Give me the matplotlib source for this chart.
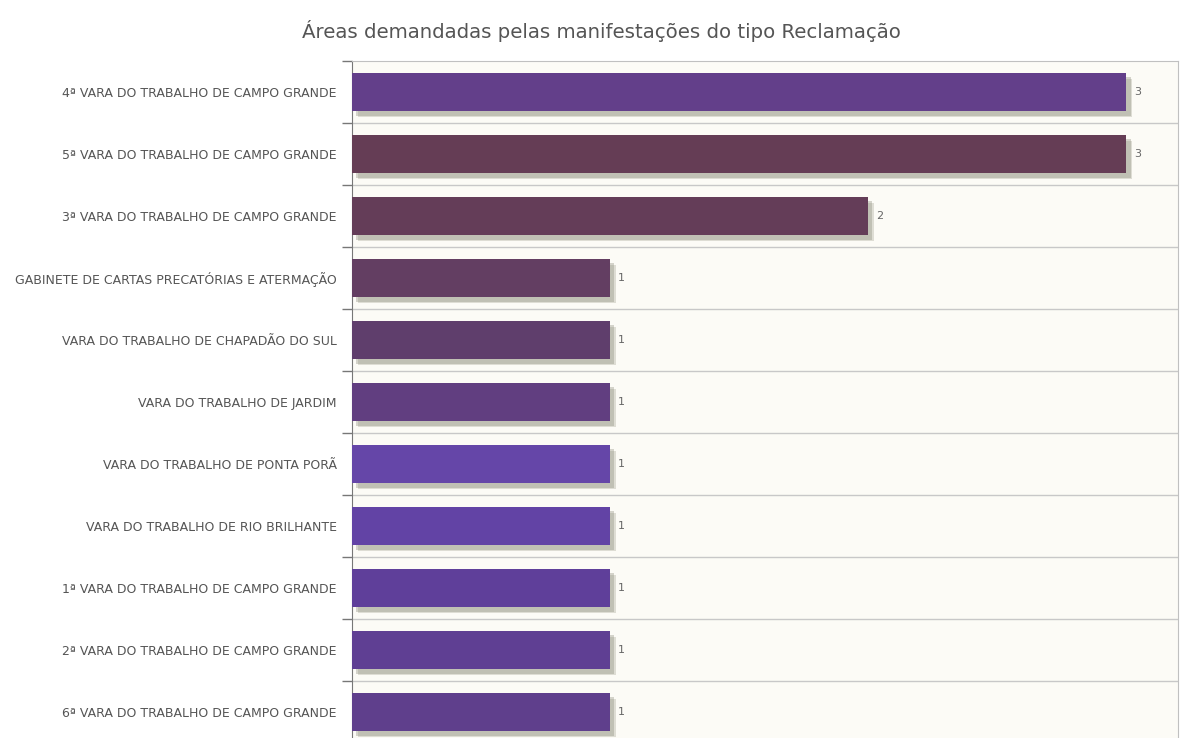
import matplotlib
matplotlib.use("Agg")
import matplotlib.pyplot as plt
import matplotlib.patheffects as pe

title = "Áreas demandadas pelas manifestações do tipo Reclamação"

areas = [
    "4ª VARA DO TRABALHO DE CAMPO GRANDE",
    "5ª VARA DO TRABALHO DE CAMPO GRANDE",
    "3ª VARA DO TRABALHO DE CAMPO GRANDE",
    "GABINETE DE CARTAS PRECATÓRIAS E ATERMAÇÃO",
    "VARA DO TRABALHO DE CHAPADÃO DO SUL",
    "VARA DO TRABALHO DE JARDIM",
    "VARA DO TRABALHO DE PONTA PORÃ",
    "VARA DO TRABALHO DE RIO BRILHANTE",
    "1ª VARA DO TRABALHO DE CAMPO GRANDE",
    "2ª VARA DO TRABALHO DE CAMPO GRANDE",
    "6ª VARA DO TRABALHO DE CAMPO GRANDE",
]
counts = [3, 3, 2, 1, 1, 1, 1, 1, 1, 1, 1]
bar_colors = [
    "#633f8a", "#653d55", "#643d58", "#633e62", "#5f3e6c", "#613e80",
    "#6546a8", "#6243a5", "#5f3f9a", "#5f3f93", "#5f3f8c",
]

fig = plt.figure(figsize=(11.81, 7.38), dpi=100)
fig.patch.set_facecolor("white")
ax = fig.add_axes([0.2981, -0.007, 0.6994, 0.924])
ax.set_facecolor("#fcfbf6")

ypos = list(range(len(areas)))
bars = ax.barh(ypos, counts, height=0.62, color=bar_colors, zorder=3)
# soft drop shadow under each bar
for b in bars:
    b.set_path_effects([
        pe.SimplePatchShadow(offset=(4, -4), shadow_rgbFace="#9a9a88", alpha=0.3),
        pe.SimplePatchShadow(offset=(3, -3), shadow_rgbFace="#8a8a7a", alpha=0.35),
        pe.Normal(),
    ])

for y, v in zip(ypos, counts):
    ax.text(v + 0.03, y, str(v), va="center", ha="left", fontsize=8,
            color="#666666", zorder=4)

ax.set_xlim(0, 3.2)
ax.set_ylim(len(areas) - 0.5, -0.5)

# gridlines between categories
for k in range(len(areas)):
    ax.axhline(k + 0.5, color="#c8c8c8", lw=1, zorder=1)
ax.set_yticks([k - 0.5 for k in range(len(areas) + 1)], minor=False)
ax.set_yticklabels([])
ax.tick_params(axis="y", length=7, color="#777777", width=1)
ax.set_yticks(ypos, minor=True)
ax.set_yticklabels(areas, minor=True, fontsize=9, color="#555555")
ax.tick_params(axis="y", which="minor", length=0, pad=11)
ax.set_xticks([])

for side in ["top", "right"]:
    ax.spines[side].set_color("#c0c0c0")
ax.spines["left"].set_color("#777777")
ax.spines["bottom"].set_visible(False)

fig.text(0.509, 0.958, title, ha="center", va="center", fontsize=14.2,
         color="#555555")

fig.savefig("out.png", dpi=100)
